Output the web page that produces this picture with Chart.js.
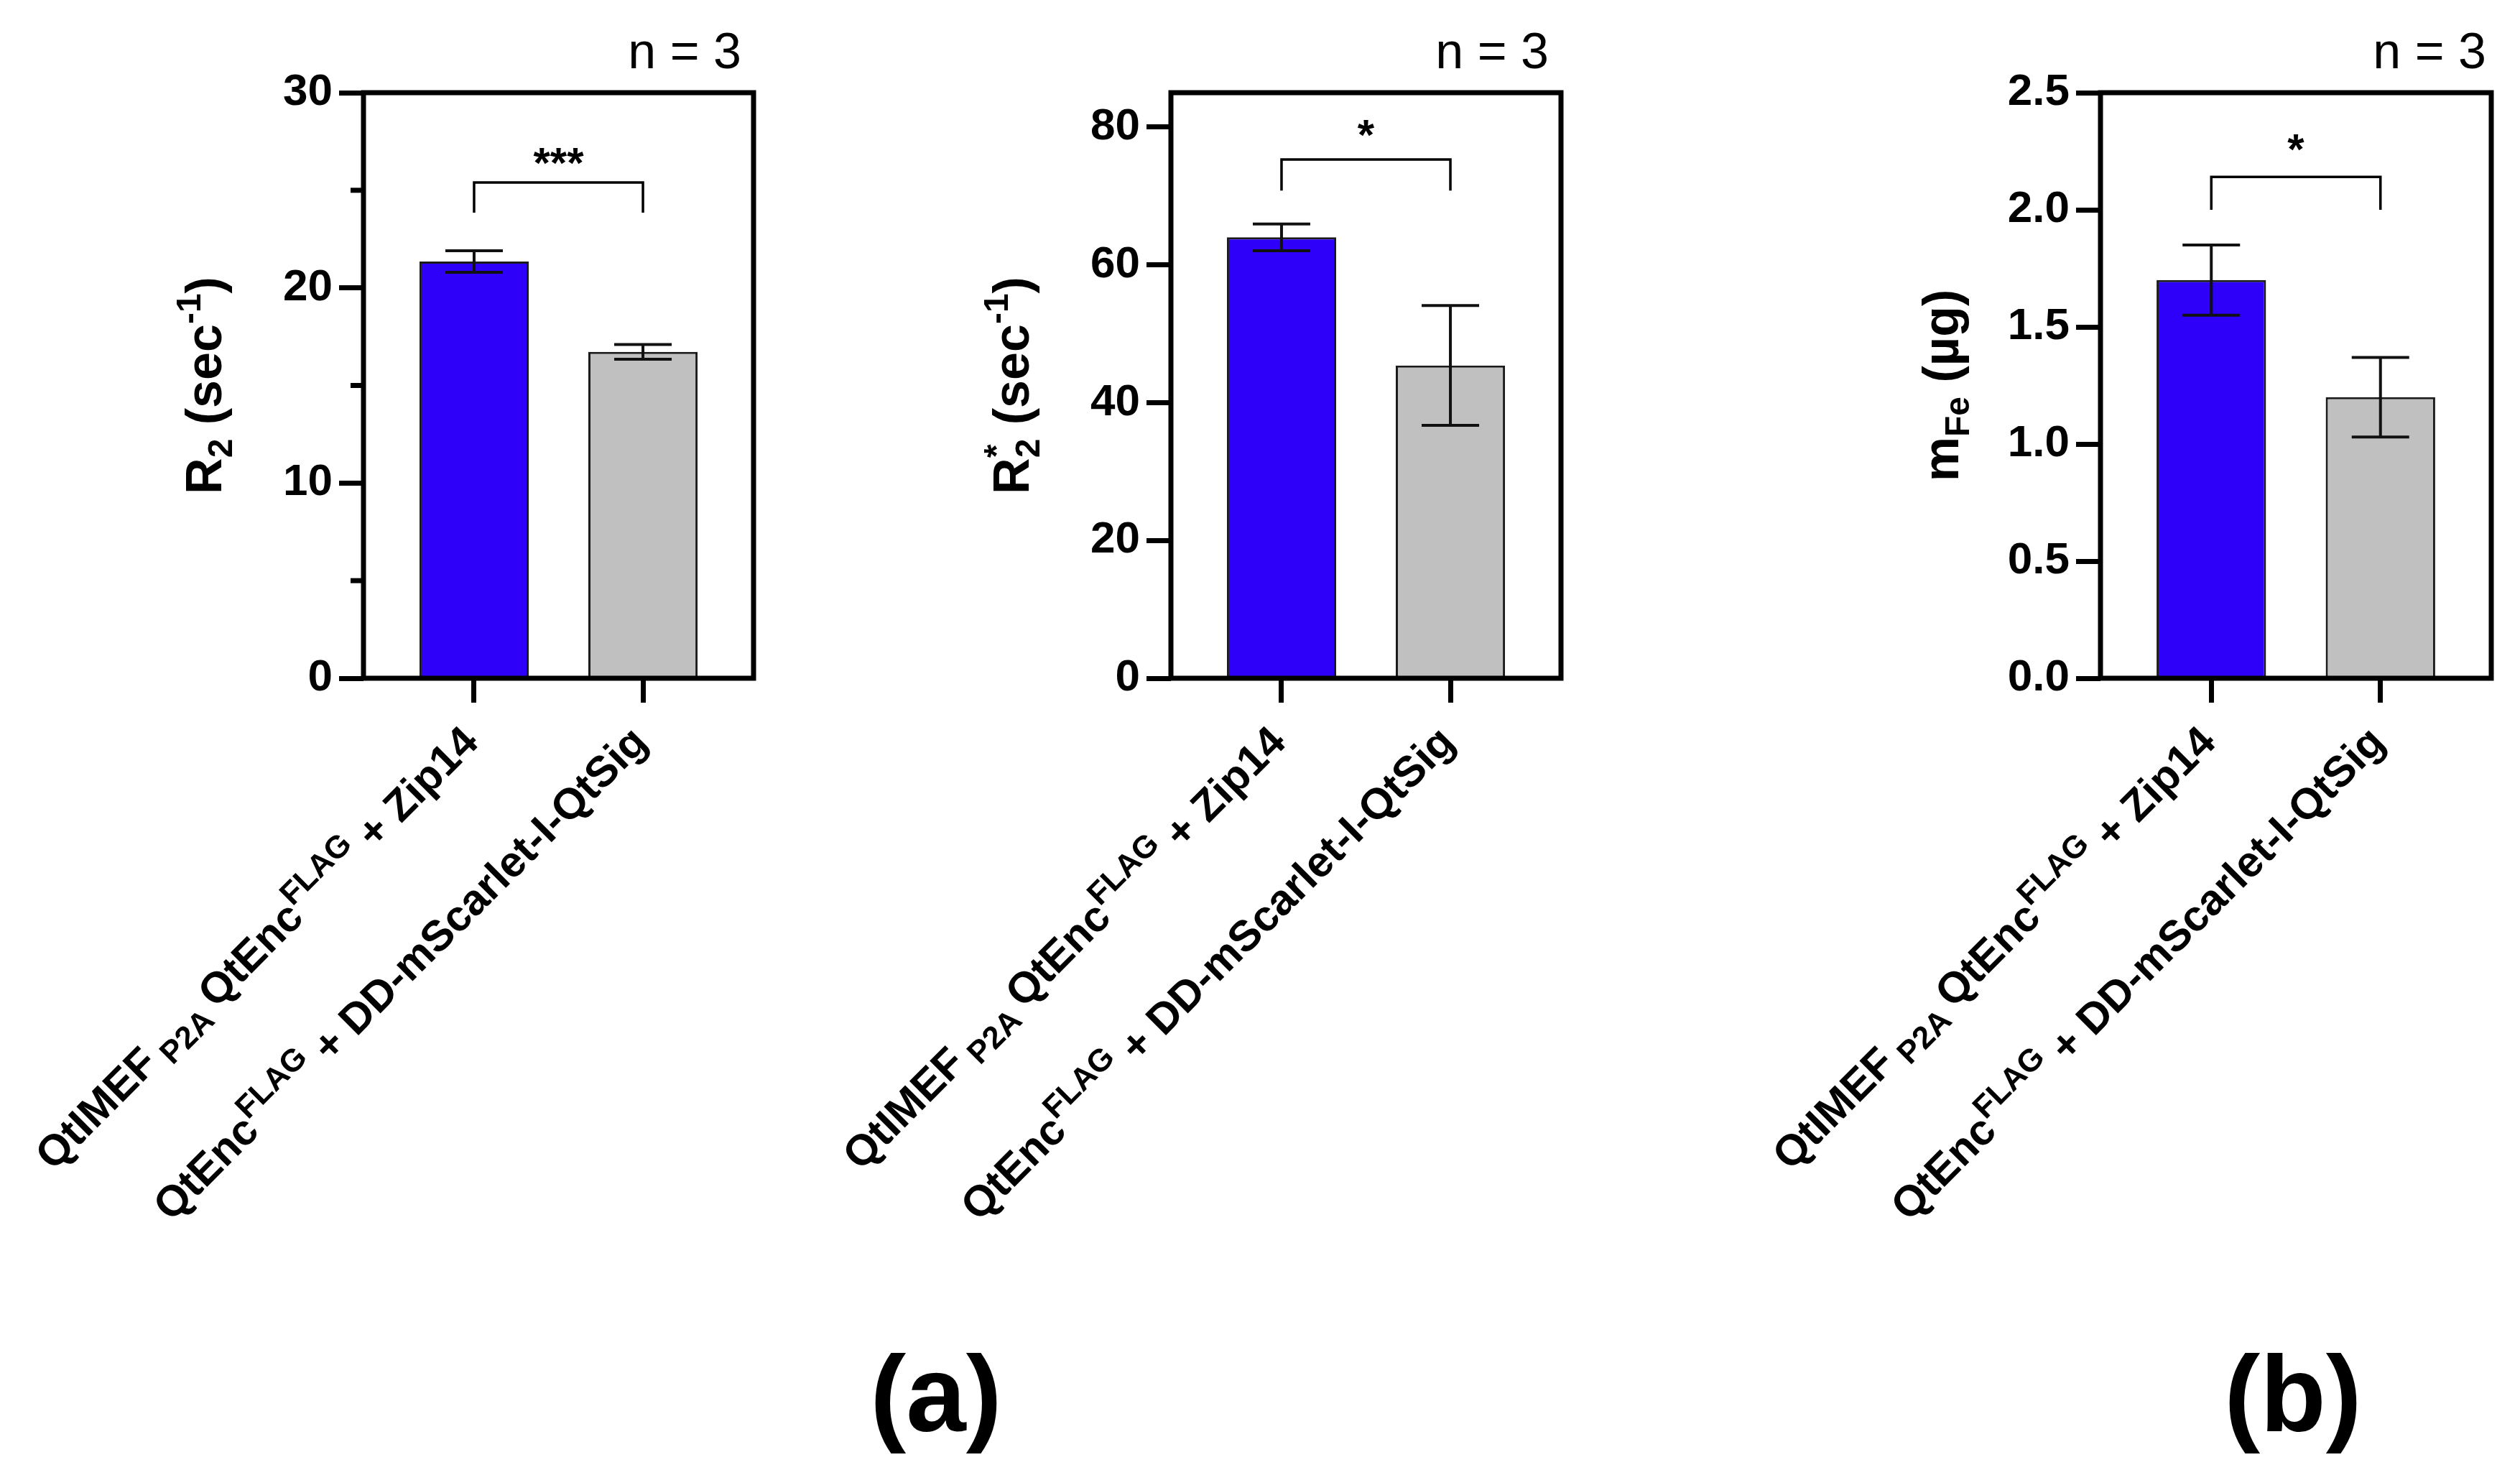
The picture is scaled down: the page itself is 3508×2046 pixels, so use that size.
<!DOCTYPE html>
<html lang="en">
<head>
<meta charset="UTF-8">
<title>R2, R2* and iron content</title>
<script src="https://cdn.jsdelivr.net/npm/chart.js"></script>
<style>
  body { margin: 0; background: #fff; width: 3508px; height: 2046px; position: relative; overflow: hidden; }
  canvas { position: absolute; top: 0; }
  .panel-label {
    position: absolute; top: 1865px; width: 400px; text-align: center;
    font: bold 150px "Liberation Sans", Arial, sans-serif; line-height: 1; color: #000;
  }
</style>
</head>
<body>
<canvas id="c1" width="1170" height="2046" style="left:0px"></canvas>
<canvas id="c2" width="1160" height="2046" style="left:1170px"></canvas>
<canvas id="c3" width="1178" height="2046" style="left:2330px"></canvas>
<div class="panel-label" style="left:1103px">(a)</div>
<div class="panel-label" style="left:2992px">(b)</div>

<script>
const FONT = '"Liberation Sans", Arial, Helvetica, sans-serif';

// ---- data ----
const categories = ['QtIMEF P2A QtEnc FLAG + Zip14', 'QtEnc FLAG + DD-mScarlet-I-QtSig'];
const nLabel = 'n = 3';

const r2Mean = [21.35, 16.72];
const r2Err = [0.55, 0.38];
const r2Ticks = [0, 10, 20, 30];
const r2MinorTicks = [5, 15, 25];
const r2Max = 30;
const r2Bracket = [25.4, 23.85, 26.9];   // bracket top, leg end, stars
const r2Stars = '***';

const r2sMean = [64.0, 45.4];
const r2sErr = [1.95, 8.7];
const r2sTicks = [0, 20, 40, 60, 80];
const r2sMax = 85;
const r2sBracket = [75.3, 70.8, 80.3];
const r2sStars = '*';

const mFeMean = [1.70, 1.20];
const mFeErr = [0.15, 0.17];
const mFeTicks = [0, 0.5, 1.0, 1.5, 2.0, 2.5];
const mFeMax = 2.5;
const mFeBracket = [2.14, 2.0, 2.30];
const mFeStars = '*';

// rich text pieces: [text, 'sub' | 'sup' | undefined, 'stack']
const catRuns = [
  [['QtIMEF'], [' P2A ', 'sub'], ['QtEnc'], ['FLAG', 'sup'], [' + Zip14']],
  [['QtEnc'], ['FLAG', 'sup'], [' + DD-mScarlet-I-QtSig']]
];
const r2Title = [['R'], ['2', 'sub'], [' (sec'], ['-1', 'sup'], [')']];
const r2sTitle = [['R'], ['2', 'sub'], ['*', 'sup', 'stack'], [' (sec'], ['-1', 'sup'], [')']];
const mFeTitle = [['m'], ['Fe', 'sub'], [' (µg)']];

const barColors = ['#2e00fa', '#c0c0c0'];

// ---- drawing helpers ----
function drawRich(ctx, runs, x, y, angle, align, size, ratio) {
    ctx.save();
    ctx.translate(x, y);
    ctx.rotate(angle);
    ctx.fillStyle = '#000';
    ctx.textAlign = 'left';
    ctx.textBaseline = 'alphabetic';
    const small = Math.round(size * ratio);
    let cursor = 0, prevStart = 0, prevW = 0;
    const items = runs.map(r => {
        const fs = r[1] ? small : size;
        ctx.font = 'bold ' + fs + 'px ' + FONT;
        const w = ctx.measureText(r[0]).width;
        let start;
        if (r[2] === 'stack') {
            start = prevStart;
            cursor = prevStart + Math.max(prevW, w);
        } else {
            start = cursor;
            cursor += w;
        }
        prevStart = start; prevW = w;
        const dy = r[1] === 'sub' ? size * 0.22 : r[1] === 'sup' ? -size * 0.42 : 0;
        return { t: r[0], fs, start, dy };
    });
    const off = align === 'right' ? -cursor : align === 'center' ? -cursor / 2 : 0;
    items.forEach(it => {
        ctx.font = 'bold ' + it.fs + 'px ' + FONT;
        ctx.fillText(it.t, off + it.start, it.dy);
    });
    ctx.restore();
}

const panels = {
    c1: { mean: r2Mean, err: r2Err, ticks: r2Ticks, minor: r2MinorTicks, max: r2Max, bracket: r2Bracket,
          stars: r2Stars, title: r2Title, left: 506, right: 1049, x0: 0, w: 1170, nOff: 17, dec: 0 },
    c2: { mean: r2sMean, err: r2sErr, ticks: r2sTicks, minor: [], max: r2sMax, bracket: r2sBracket,
          stars: r2sStars, title: r2sTitle, left: 1630, right: 2173, x0: 1170, w: 1160, nOff: 17, dec: 0 },
    c3: { mean: mFeMean, err: mFeErr, ticks: mFeTicks, minor: [], max: mFeMax, bracket: mFeBracket,
          stars: mFeStars, title: mFeTitle, left: 2924, right: 3468, x0: 2330, w: 1178, nOff: 7, dec: 1 }
};
const plotTop = 129, plotBottom = 944;

const decor = {
    id: 'decor',
    afterDatasetsDraw(chart) {
        const p = panels[chart.canvas.id];
        const ctx = chart.ctx, a = chart.chartArea;
        const ys = chart.scales.y, xs = chart.scales.x;
        const bars = chart.getDatasetMeta(0).data;
        ctx.save();

        // error bars
        ctx.strokeStyle = '#111';
        ctx.lineWidth = 4;
        bars.forEach((b, i) => {
            const hi = ys.getPixelForValue(p.mean[i] + p.err[i]);
            const lo = ys.getPixelForValue(p.mean[i] - p.err[i]);
            ctx.beginPath();
            ctx.moveTo(b.x, hi); ctx.lineTo(b.x, lo);
            ctx.moveTo(b.x - 40, hi); ctx.lineTo(b.x + 40, hi);
            ctx.moveTo(b.x - 40, lo); ctx.lineTo(b.x + 40, lo);
            ctx.stroke();
        });

        // box around the plot
        ctx.strokeStyle = '#000';
        ctx.lineWidth = 7;
        ctx.strokeRect(a.left, a.top, a.right - a.left, a.bottom - a.top);

        // minor ticks
        p.minor.forEach(v => {
            const y = ys.getPixelForValue(v);
            ctx.beginPath();
            ctx.moveTo(a.left - 18, y); ctx.lineTo(a.left, y);
            ctx.stroke();
        });

        // significance bracket
        ctx.lineWidth = 3.5;
        const bt = ys.getPixelForValue(p.bracket[0]);
        const bl = ys.getPixelForValue(p.bracket[1]);
        ctx.beginPath();
        ctx.moveTo(bars[0].x, bl); ctx.lineTo(bars[0].x, bt);
        ctx.lineTo(bars[1].x, bt); ctx.lineTo(bars[1].x, bl);
        ctx.stroke();
        ctx.fillStyle = '#000';
        ctx.font = 'bold 60px ' + FONT;
        ctx.textAlign = 'center';
        ctx.textBaseline = 'alphabetic';
        ctx.fillText(p.stars, (bars[0].x + bars[1].x) / 2, ys.getPixelForValue(p.bracket[2]) + 34);

        // n = 3
        ctx.font = '70px ' + FONT;
        ctx.textAlign = 'right';
        ctx.fillText(nLabel, a.right - p.nOff, 95);

        // y title
        drawRich(ctx, p.title, a.left - 198, (a.top + a.bottom) / 2, -Math.PI / 2, 'center', 70, 0.68);

        // category labels
        catRuns.forEach((runs, i) => {
            drawRich(ctx, runs, xs.getPixelForValue(i) + 9, a.bottom + 92, -Math.PI / 4, 'right', 60, 0.74);
        });
        ctx.restore();
    }
};

function makeChart(id) {
    const p = panels[id];
    const ctx = document.getElementById(id).getContext('2d');
    return new Chart(ctx, {
        type: 'bar',
        data: {
            datasets: [{
                data: p.mean.map((v, i) => ({ x: i, y: v })),
                backgroundColor: barColors,
                borderColor: '#1a1a1a',
                borderWidth: 3,
                categoryPercentage: 1,
                barPercentage: 0.647
            }]
        },
        options: {
            responsive: false,
            animation: false,
            devicePixelRatio: 1,
            layout: { padding: { left: 0, top: plotTop, right: p.w - (p.right - p.x0), bottom: 0 } },
            plugins: { legend: { display: false }, tooltip: { enabled: false } },
            scales: {
                x: {
                    type: 'linear',
                    offset: false,
                    min: -0.655,
                    max: 1.655,
                    afterBuildTicks: s => { s.ticks = categories.map((c, i) => ({ value: i })); },
                    afterFit: s => { s.height = 2046 - plotBottom; },
                    border: { display: false },
                    grid: { offset: false, drawOnChartArea: false, drawTicks: true, tickLength: 34, tickWidth: 7, tickColor: '#000' },
                    ticks: { callback: () => '' }
                },
                y: {
                    min: 0,
                    max: p.max,
                    afterBuildTicks: s => { s.ticks = p.ticks.map(v => ({ value: v })); },
                    afterFit: s => { s.width = p.left - p.x0; },
                    border: { display: false },
                    grid: { drawOnChartArea: false, drawTicks: true, tickLength: 34, tickWidth: 7, tickColor: '#000' },
                    ticks: {
                        padding: 9,
                        color: '#000',
                        font: { family: FONT, size: 62, weight: 'bold' },
                        callback: v => Number(v).toFixed(p.dec)
                    }
                }
            }
        },
        plugins: [decor]
    });
}

makeChart('c1');
makeChart('c2');
makeChart('c3');
</script>
</body>
</html>
